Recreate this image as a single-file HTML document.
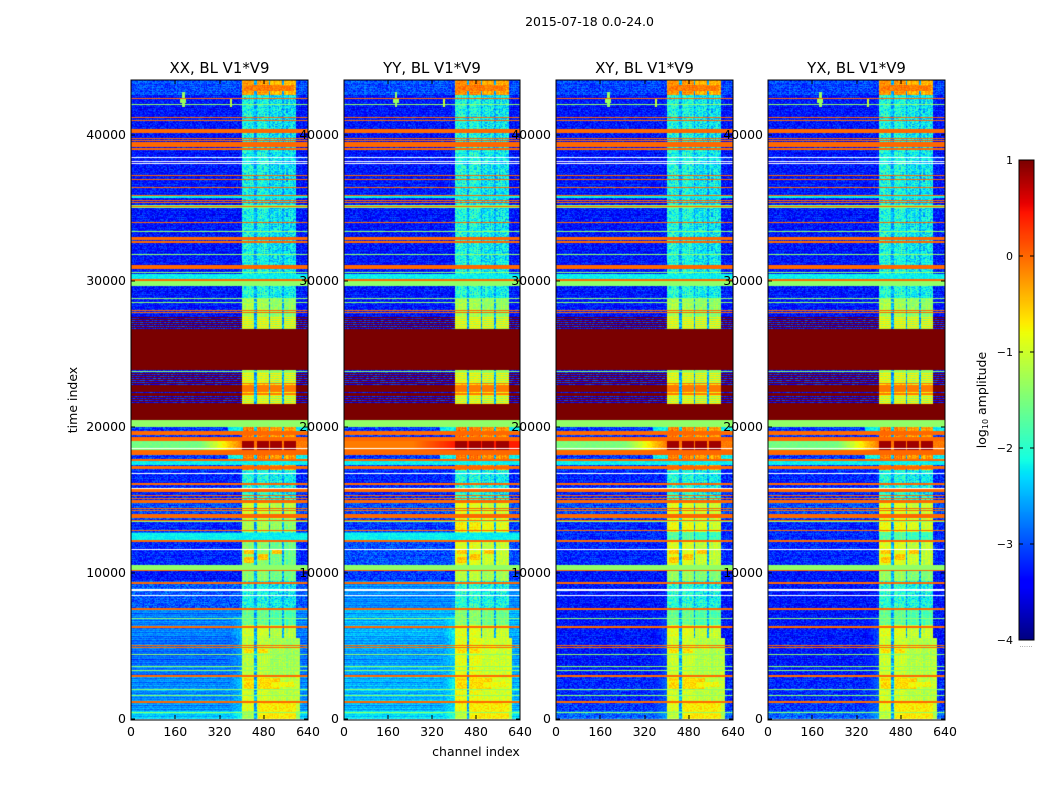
<!DOCTYPE html>
<html>
<head>
<meta charset="utf-8">
<title>2015-07-18 0.0-24.0</title>
<style>
html,body{margin:0;padding:0;background:#fff;width:1050px;height:800px;overflow:hidden}
#figure{position:relative;width:1050px;height:800px;font-family:"DejaVu Sans","Liberation Sans",sans-serif}
#figure canvas{position:absolute;left:0;top:0}
#overlay{position:absolute;left:0;top:0}
#overlay text{font-family:"DejaVu Sans","Liberation Sans",sans-serif;fill:#000}
</style>
</head>
<body>
<div id="figure">
<canvas id="heat" width="1050" height="800"></canvas>
<svg id="overlay" width="1050" height="800"></svg>
</div>
<script>
// ---- chart data ----
const panelTitles = ['XX, BL V1*V9', 'YY, BL V1*V9', 'XY, BL V1*V9', 'YX, BL V1*V9'];
const xTicks = [0, 160, 320, 480, 640];
const yTicks = [0, 10000, 20000, 30000, 40000];
const colorTicks = [1, 0, -1, -2, -3, -4];
const colorTickLabels = ['1', '0', '\u22121', '\u22122', '\u22123', '\u22124'];

// upper bound of each time segment, with background / block log-amplitudes
const segEnd = [500, 1100, 2900, 5500, 6400, 7500, 9400, 10200, 12100, 12800, 13700, 15000, 17000, 20000, 22190, 22990, 27900, 28800, 29600, 42700, 43800];
const bgXX = [-2.4, -2.65, -2.7, -2.85, -2.75, -2.75, -2.95, -3.3, -3.2, -2.6, -3.2, -3.0, -3.2, -3.1, -3.3, -3.3, -3.3, -3.3, -3.3, -3.3, -3.0];
const bgYY = [-2.3, -2.5, -2.5, -2.6, -2.5, -2.5, -2.7, -3.1, -3.0, -2.4, -3.1, -3.0, -3.2, -3.1, -3.3, -3.3, -3.3, -3.3, -3.3, -3.3, -3.0];
const bgCross = [-2.9, -3.1, -3.2, -3.3, -3.3, -3.3, -3.3, -3.3, -3.2, -3.2, -3.2, -3.0, -3.2, -3.1, -3.3, -3.3, -3.3, -3.3, -3.3, -3.3, -3.05];
const blockXX = [-1.35, -1.0, -1.05, -1.2, -1.1, -1.7, -2.15, -1.5, -1.5, -1.9, -1.3, -1.1, -2.1, -0.2, -1.3, -0.7, -1.3, -1.3, -2.1, -2.2, -0.35];
const blockYY = [-1.2, -0.9, -0.9, -0.95, -1.0, -1.5, -2.05, -1.2, -1.0, -1.7, -0.8, -1.0, -2.1, -0.15, -1.3, -0.7, -1.3, -1.3, -2.1, -2.15, -0.25];
const blockCross = [-1.2, -1.0, -1.05, -1.1, -1.0, -1.7, -2.05, -1.4, -1.0, -1.8, -0.9, -1.0, -2.1, -0.2, -1.3, -0.7, -1.3, -1.3, -2.1, -2.15, -0.3];

// the four channel blocks
const blockStart = [406, 457, 507, 557];
const blockEnd = [448, 499, 548, 599];
const blockTilt = [0.08, 0.08, -0.08, -0.08];

// thick horizontal bands (bandCoOnly = 1 where only XX/YY show the band)
const bandStart = [35630, 30140, 17350, 12260, 34950, 29610, 10200, 20000, 40140, 39160, 38970, 32810, 32600, 30800, 30000, 27760, 19400, 19040, 18080, 17620, 17120, 16000, 15500, 14730, 12810, 12120, 7400, 6230, 1030, 20480, 23850];
const bandEnd   = [35890, 30430, 17620, 12740, 35200, 30000, 10530, 20480, 40370, 39500, 39110, 32990, 32720, 31090, 30110, 27850, 19660, 19310, 18400, 17810, 17280, 16140, 15710, 15000, 12945, 12260, 7540, 6370, 1190, 21550, 26690];
const bandLevel = [-2.2, -2.2, -2.2, -2.2, -1.38, -1.38, -1.38, -1.38, 0, 0, 0, 0, 0, 0, 0, 0, 0, 0, 0, 0, 0, 0, 0, 0, 0, 0, 0, 0, 0, 1, 1];
const bandCoOnly = [0, 0, 0, 1, 0, 0, 0, 0, 0, 0, 0, 0, 0, 0, 0, 0, 0, 0, 0, 0, 0, 0, 0, 0, 0, 0, 0, 0, 0, 0, 0];

// single-row lines
const orangeLines = [42530, 41190, 41020, 39770, 39650, 37240, 36970, 36400, 35890, 35520, 35410, 35090, 34020, 27990, 15290, 15110, 14430, 14250, 14040, 13950, 13860, 13770, 13630, 10140, 9360, 9250, 5020, 4880, 3010, 2880];
const limeLines = [42120, 33420, 31830, 30590, 28810, 28540, 23830, 13510, 6900, 4430, 3630, 3290, 2010, 1600, 460];
const whiteLines = [38470, 38220, 38080, 16850, 15800, 11620, 8900, 8790, 8470, 18500];

// maroon stripes across the flagged regions
const stripeTimes = [27500, 27360, 27220, 27080, 26940, 26800, 23700, 23563, 23426, 23289, 23152, 23015, 22950, 22878, 22810, 22741, 22670, 22604, 22530, 22467, 22400, 22330, 22260, 22193, 22056, 21919, 21782, 21645];

// warm rows near 19000 (left level per polarisation, level in block cores)
const warmStart = 18420;
const warmEnd = 19040;
const warmXX = -1.55;
const warmYY = -0.1;
const warmXY = -1.5;
const warmYX = -1.55;
const warmBlock = 0.85;

// rectangular features: RFI spikes and hot patches
const spotT0 = [41900, 42150, 41900, 19680, 17810, 19680, 17810, 2000, 2000, 2150, 4500, 4500, 10650, 11300, 10850, 11300, 43000, 0, 400];
const spotT1 = [42900, 42500, 42500, 20000, 18080, 20000, 18080, 2800, 2800, 2500, 4750, 4750, 11050, 11550, 11250, 11550, 43400, 1100, 900];
const spotC0 = [186, 180, 358, 350, 350, 600, 600, 410, 460, 505, 410, 460, 410, 410, 460, 510, 410, 460, 510];
const spotC1 = [194, 200, 366, 406, 406, 640, 640, 445, 540, 590, 445, 495, 445, 445, 495, 545, 590, 600, 600];
const spotLevel = [-1.3, -1.3, -1.1, -2.2, -2.2, -2.2, -2.2, -0.6, -0.6, -0.8, -0.6, -0.6, -0.5, -0.5, -0.5, -0.5, -0.1, -0.7, -0.7];

// speckle texture (unit amplitude)
const speckle = [0.3, -0.7, 0.9, -0.2, 0.5, -0.9, 0.1, 0.7, -0.4, 0.2, -0.6, 1.0, -0.1, 0.4, -0.8, 0.6, -0.3, 0.8, -1.0, 0.0, 0.5, -0.5, 0.2, 0.9, -0.7, -0.2, 0.6, -0.4, 0.3, -0.9, 0.7, 0.1, -0.6, 0.4, -0.1, 0.8, -0.8, 0.2, -0.3, 0.5, -0.5];
const rowTexture = [0.0, 0.3, -0.4, 0.1, -0.1, 0.5, -0.5, 0.2, 0.0, -0.3, 0.4, -0.2, 0.1, -0.6, 0.3, 0.0, 0.2, -0.4, 0.4, -0.1, 0.1, -0.3, 0.2];

// ---- axes ----
const panelLefts = [131, 344, 556, 768];
const panelRights = [308, 520, 733, 945];
const plotTop = 80, plotBottom = 719;
const pxPerTime = 0.0146, maxChan = 640;
const chanStep = 4, timeStep = 68.5;
function xScale(p, ch) { return panelLefts[p] + ch / maxChan * (panelRights[p] - panelLefts[p]); }
function yScale(t) { return plotBottom - t * pxPerTime; }
const cbLeft = 1019, cbRight = 1034, cbTop = 160, cbBottom = 640;
function cbScale(v) { return cbBottom - (v + 4) / 5 * (cbBottom - cbTop); }

// ---- colormap (jet) ----
function ramp(pts, x) {
  for (let i = 1; i < pts.length; i++) {
    if (x <= pts[i][0]) {
      const a = pts[i - 1], b = pts[i];
      return a[1] + (b[1] - a[1]) * (x - a[0]) / (b[0] - a[0]);
    }
  }
  return pts[pts.length - 1][1];
}
const jetR = [[0, 0], [0.35, 0], [0.66, 1], [0.89, 1], [1, 0.48]];
const jetG = [[0, 0], [0.125, 0], [0.375, 1], [0.64, 1], [0.91, 0], [1, 0]];
const jetB = [[0, 0.5], [0.11, 1], [0.34, 1], [0.65, 0], [1, 0]];
function jet(v) {
  const f = Math.max(0, Math.min(1, (v + 4) / 5));
  return 'rgb(' + Math.round(255 * ramp(jetR, f)) + ',' + Math.round(255 * ramp(jetG, f)) + ',' + Math.round(255 * ramp(jetB, f)) + ')';
}

// ---- cell level ----
function segmentIndex(t) {
  for (let i = 0; i < segEnd.length; i++) if (t < segEnd[i]) return i;
  return segEnd.length - 1;
}
function lineIn(list, t) {
  for (let i = 0; i < list.length; i++) if (list[i] >= t && list[i] < t + timeStep) return true;
  return false;
}
function cellLevel(p, ch, t, i, j) {
  const n = speckle[(i * 7 + j * 13 + (i * j) % 11) % speckle.length];
  const rn = rowTexture[j % rowTexture.length];
  const cn = speckle[i % speckle.length];
  const s = segmentIndex(t);
  if (lineIn(whiteLines, t)) return null;
  const bgArr = p === 0 ? bgXX : (p === 1 ? bgYY : bgCross);
  const blkArr = p === 0 ? blockXX : (p === 1 ? blockYY : blockCross);
  const bg = bgArr[s], blk = blkArr[s];
  let inBlock = false;
  let tilt = 0;
  for (let b = 0; b < blockStart.length; b++) {
    if (ch + chanStep > blockStart[b] && ch < blockEnd[b]) {
      inBlock = true;
      tilt = blockTilt[b];
    }
  }
  const lowMerged = t < 5500 && ch >= 496 && ch < 612;
  if (lowMerged) inBlock = true;
  const inSpan = ch >= 404 && ch < 600;
  const coarse = blk < -1.8;
  let v;
  if (inBlock) v = blk + tilt + n * (coarse ? 0.42 : 0.22) + rn * 0.1 + cn * 0.12;
  else if (inSpan) v = -2.55 + n * 0.35;
  else if (bg > -2.9) v = bg + n * 0.18 + rn * 0.45;
  else v = bg + n * 0.35 + rn * 0.2;
  if (ch >= 360 && ch < 404 && t < 7000) v = bg + (ch - 360) / 44 * 0.3 + n * 0.2;

  for (let k = 0; k < spotT0.length; k++) {
    if (t >= spotT0[k] && t < spotT1[k] && ch >= spotC0[k] && ch < spotC1[k]) {
      v = spotLevel[k] + n * 0.2;
    }
  }
  if (lineIn(stripeTimes, t)) {
    if (inBlock) v = blk + 0.6;
    else if (!inSpan) v = 1;
  }
  for (let k = 0; k < bandStart.length; k++) {
    if (t >= bandStart[k] && t < bandEnd[k]) {
      if (bandCoOnly[k] && p > 1) continue;
      const lv = bandLevel[k];
      v = lv < -2 ? lv + n * 0.12 : lv;
    }
  }
  if (t >= warmStart && t < warmEnd) {
    const left = [warmXX, warmYY, warmXY, warmYX][p];
    const edge = ch < 250 ? 0 : Math.min(1, (ch - 250) / 150);
    v = left + (-0.1 - left) * edge + n * 0.1;
    if (inBlock) v = warmBlock;
    if (p === 1) v = inBlock ? warmBlock : -0.1 + edge * 0.5;
  }
  if (lineIn(limeLines, t)) v = -1.38;
  if (lineIn(orangeLines, t)) v = 0;
  return v;
}

// ---- draw heatmap cells ----
const ctx = document.getElementById('heat').getContext('2d');
for (let p = 0; p < panelLefts.length; p++) {
  for (let j = 0; j * timeStep < plotBottom / pxPerTime; j++) {
    const t = j * timeStep;
    const yTop = Math.floor(yScale(t + timeStep));
    if (yTop < plotTop - 1) continue;
    const h = Math.max(1, Math.round(yScale(t)) - Math.round(yScale(t + timeStep)));
    for (let i = 0; i < maxChan / chanStep; i++) {
      const ch = i * chanStep;
      const x0 = Math.floor(xScale(p, ch));
      const x1 = Math.ceil(xScale(p, ch + chanStep));
      const v = cellLevel(p, ch, t, i, j);
      ctx.fillStyle = v === null ? '#ffffff' : jet(v);
      ctx.fillRect(x0, Math.round(yScale(t + timeStep)), x1 - x0, h);
    }
  }
}
ctx.clearRect(0, 0, 1050, plotTop);
// colorbar
for (let y = cbTop; y < cbBottom; y++) {
  const v = 1 - (y - cbTop + 0.5) / (cbBottom - cbTop) * 5;
  ctx.fillStyle = jet(v);
  ctx.fillRect(cbLeft, y, cbRight - cbLeft, 1);
}

// ---- overlay ----
const svg = document.getElementById('overlay');
const NS = 'http://www.w3.org/2000/svg';
function addText(parent, name, str, x, y, size, anchor, rotate) {
  const el = document.createElementNS(NS, 'text');
  
  
  el.setAttribute('x', x);
  el.setAttribute('y', y);
  el.setAttribute('font-size', size);
  el.setAttribute('text-anchor', anchor);
  if (rotate) el.setAttribute('transform', 'rotate(-90 ' + x + ' ' + y + ')');
  el.textContent = str;
  parent.appendChild(el);
  return el;
}
function addLine(parent, name, x1, y1, x2, y2, color) {
  const el = document.createElementNS(NS, 'line');
  
  
  el.setAttribute('x1', x1);
  el.setAttribute('y1', y1);
  el.setAttribute('x2', x2);
  el.setAttribute('y2', y2);
  el.setAttribute('stroke', color || '#000');
  el.setAttribute('stroke-width', '1');
  el.setAttribute('shape-rendering', 'crispEdges');
  parent.appendChild(el);
  return el;
}
function addFrame(parent, name, x, y, w, h) {
  const el = document.createElementNS(NS, 'rect');
  
  
  el.setAttribute('x', x);
  el.setAttribute('y', y);
  el.setAttribute('width', w);
  el.setAttribute('height', h);
  el.setAttribute('fill', 'none');
  el.setAttribute('stroke', '#000');
  el.setAttribute('stroke-width', '1.2');
  el.setAttribute('shape-rendering', 'crispEdges');
  parent.appendChild(el);
  return el;
}

for (let p = 0; p < panelLefts.length; p++) {
  const left = panelLefts[p];
  const right = panelRights[p];
  const g = document.createElementNS(NS, 'g');
  
  
  svg.appendChild(g);
  addFrame(g, 'panel-frame', left, plotTop, right - left, plotBottom + 1 - plotTop);
  addText(g, 'panel-title', panelTitles[p], (left + right) / 2, 73, 14.9, 'middle');
  for (const c of xTicks) {
    const x = Math.round(xScale(p, c));
    addLine(g, 'x-tick', x, plotBottom, x, plotBottom - 4);
    addLine(g, 'x-tick-top', x, plotTop, x, plotTop + 4);
    addText(g, 'x-tick-label', String(c), xScale(p, c), 736, 12.5, 'middle');
  }
  for (const t of yTicks) {
    const y = Math.round(yScale(t));
    addLine(g, 'y-tick', left, y, left + 4, y);
    addLine(g, 'y-tick-right', right, y, right - 4, y);
    addText(g, 'y-tick-label', String(t), left - 5, y + 4, 12.5, 'end');
  }
}

addText(svg, 'figure-title', '2015-07-18 0.0-24.0', 589.5, 26, 12.5, 'middle');
addText(svg, 'y-axis-title', 'time index', 77, 400, 12.5, 'middle', true);
addText(svg, 'x-axis-title', 'channel index', 476, 756, 12.5, 'middle');

// colorbar furniture
addFrame(svg, 'colorbar-frame', cbLeft, cbTop, cbRight - cbLeft, cbBottom - cbTop);
for (let i = 0; i < colorTicks.length; i++) {
  const y = Math.round(cbScale(colorTicks[i]));
  addLine(svg, 'colorbar-tick', cbLeft, y, cbLeft + 4, y);
  addLine(svg, 'colorbar-tick-right', cbRight, y, cbRight - 4, y);
  addText(svg, 'colorbar-tick-label', colorTickLabels[i], 1013, y + 4, 11, 'end');
}
const cbTitle = addText(svg, 'colorbar-title', 'log', 986, 400, 12.5, 'middle', true);
const sub = document.createElementNS(NS, 'tspan');


sub.setAttribute('font-size', '8');
sub.setAttribute('dy', '2');
sub.textContent = '10';
cbTitle.appendChild(sub);
const rest = document.createElementNS(NS, 'tspan');


rest.setAttribute('dy', '-2');
rest.textContent = ' amplitude';
cbTitle.appendChild(rest);
addText(svg, 'colorbar-offset-dots', '......', 1026, 647, 7, 'middle').setAttribute('style', 'fill:#888');
</script>
</body>
</html>
